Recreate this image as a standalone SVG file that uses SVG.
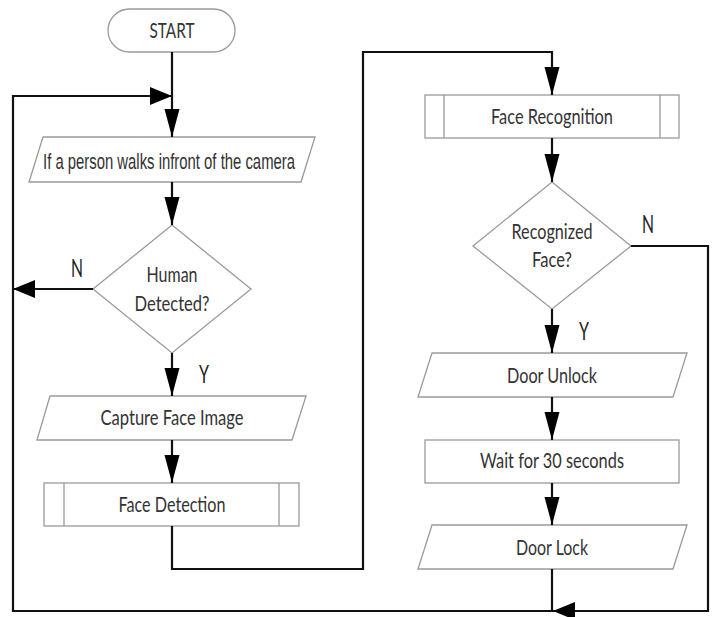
<svg xmlns="http://www.w3.org/2000/svg" width="714" height="617" viewBox="0 0 714 617">
<style>
.shape{fill:#fff;stroke:#9a9a9a;stroke-width:1.3}
.t{font-family:Lato,"Liberation Sans",sans-serif;font-size:21px;fill:#333;text-anchor:middle}
.n{font-family:"Liberation Sans",sans-serif;font-size:22px;fill:#333;text-anchor:middle}
.lbl{font-family:Lato,"Liberation Sans",sans-serif;font-size:25px;fill:#222;text-anchor:middle}
.c{fill:none;stroke:#111;stroke-width:2.2}
.ah{fill:#000}
</style>
<defs>
<marker id="av" markerUnits="userSpaceOnUse" markerWidth="28" markerHeight="18" viewBox="0 0 28 18" refX="28" refY="9" orient="auto"><path d="M0,1.5 L28,9 L0,16.5 Z" class="ah"/></marker>
<marker id="ahz" markerUnits="userSpaceOnUse" markerWidth="22" markerHeight="20" viewBox="0 0 22 20" refX="22" refY="10" orient="auto"><path d="M0,1 L22,10 L0,19 Z" class="ah"/></marker>
</defs>

<g id="start"><rect class="shape" x="108" y="9" width="127" height="43" rx="21.5"/><text class="t" x="172" y="38" textLength="45" lengthAdjust="spacingAndGlyphs">START</text></g>
<g id="walks"><polygon class="shape" points="43,137 315,137 301,182 29,182"/><text class="n" x="169" y="169" textLength="252" lengthAdjust="spacingAndGlyphs">If a person walks infront of the camera</text></g>
<g id="human"><polygon class="shape" points="172,225 251,289 172,353 93,289"/><text class="t" x="172" y="282" textLength="51" lengthAdjust="spacingAndGlyphs">Human</text><text class="t" x="172" y="311" textLength="75" lengthAdjust="spacingAndGlyphs">Detected?</text></g>
<g id="capture"><polygon class="shape" points="50,396 306,396 292,440 37,440"/><text class="t" x="172" y="425" textLength="143" lengthAdjust="spacingAndGlyphs">Capture Face Image</text></g>
<g id="facedet"><rect class="shape" x="44" y="483" width="255" height="43"/><line class="shape" x1="64" y1="483" x2="64" y2="526"/><line class="shape" x1="279" y1="483" x2="279" y2="526"/><text class="t" x="172" y="512" textLength="107" lengthAdjust="spacingAndGlyphs">Face Detection</text></g>
<g id="facerec"><rect class="shape" x="425" y="95" width="254" height="43"/><line class="shape" x1="444" y1="95" x2="444" y2="138"/><line class="shape" x1="660" y1="95" x2="660" y2="138"/><text class="t" x="552" y="124" textLength="122" lengthAdjust="spacingAndGlyphs">Face Recognition</text></g>
<g id="recognized"><polygon class="shape" points="552,182 631,246 552,309 473,246"/><text class="t" x="552" y="239" textLength="81" lengthAdjust="spacingAndGlyphs">Recognized</text><text class="t" x="552" y="267" textLength="40" lengthAdjust="spacingAndGlyphs">Face?</text></g>
<g id="unlock"><polygon class="shape" points="432,353 687,353 673,397 418,397"/><text class="t" x="552" y="383" textLength="90" lengthAdjust="spacingAndGlyphs">Door Unlock</text></g>
<g id="wait"><rect class="shape" x="425" y="440" width="254" height="43"/><text class="t" x="552" y="468" textLength="144" lengthAdjust="spacingAndGlyphs">Wait for 30 seconds</text></g>
<g id="lock"><polygon class="shape" points="432,525 687,525 673,569 418,569"/><text class="t" x="552" y="555" textLength="72" lengthAdjust="spacingAndGlyphs">Door Lock</text></g>

<g id="connectors">
<path class="c" d="M172,52 V137" marker-end="url(#av)"/>
<path class="c" d="M13,610 V96 H172" marker-end="url(#ahz)"/>
<path class="c" d="M172,182 V225" marker-end="url(#av)"/>
<path class="c" d="M93,289 H13" marker-end="url(#ahz)"/>
<path class="c" d="M172,353 V396" marker-end="url(#av)"/>
<path class="c" d="M172,440 V483" marker-end="url(#av)"/>
<path class="c" d="M172,526 V569 H363 V52 H552 V95" marker-end="url(#av)"/>
<path class="c" d="M552,138 V182" marker-end="url(#av)"/>
<path class="c" d="M552,309 V353" marker-end="url(#av)"/>
<path class="c" d="M552,397 V440" marker-end="url(#av)"/>
<path class="c" d="M552,483 V525" marker-end="url(#av)"/>
<path class="c" d="M552,569 V611"/>
<path class="c" d="M631,246 H708 V611 H553" marker-end="url(#ahz)"/>
<path class="c" d="M553,611 H13 V609"/>
<text class="lbl" x="77" y="277" textLength="12" lengthAdjust="spacingAndGlyphs">N</text>
<text class="lbl" x="204" y="383" textLength="10" lengthAdjust="spacingAndGlyphs">Y</text>
<text class="lbl" x="648" y="233" textLength="12" lengthAdjust="spacingAndGlyphs">N</text>
<text class="lbl" x="584" y="340" textLength="10" lengthAdjust="spacingAndGlyphs">Y</text>
</g>
</svg>
